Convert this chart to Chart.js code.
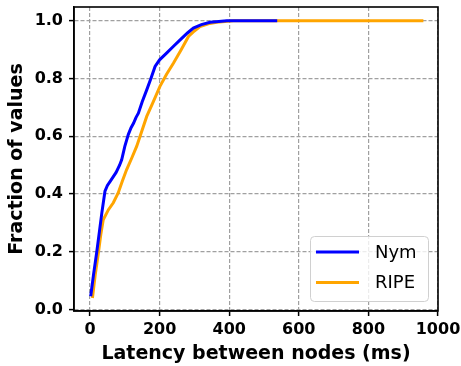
<!DOCTYPE html>
<html>
<head>
<meta charset="utf-8">
<script src="https://cdn.jsdelivr.net/npm/chart.js@4"></script>
<style>
  html, body { margin: 0; padding: 0; background: #fff; }
  #box { width: 461px; height: 366px; }
</style>
</head>
<body>
<div id="box"><canvas id="grafico"></canvas></div>
<script>
const nymLatency = [2, 10, 19, 27, 34, 43, 50, 58, 75, 85, 91, 100, 110, 118, 125, 132, 139, 150, 163, 175, 187, 200, 220, 240, 259, 280, 297, 320, 345, 370, 393, 450, 538];
const nymFraction = [0.046, 0.12, 0.196, 0.27, 0.335, 0.41, 0.43, 0.444, 0.475, 0.50, 0.519, 0.565, 0.606, 0.63, 0.645, 0.665, 0.68, 0.72, 0.761, 0.80, 0.842, 0.865, 0.888, 0.912, 0.934, 0.958, 0.975, 0.987, 0.995, 0.998, 1.0, 1.0, 1.0];
const ripeLatency = [7, 15, 24, 31, 38, 53, 67, 81, 93, 105, 120, 134, 148, 163, 182, 201, 220, 240, 262, 283, 300, 316, 340, 364, 412, 600, 958];
const ripeFraction = [0.04, 0.12, 0.196, 0.26, 0.311, 0.346, 0.37, 0.404, 0.445, 0.484, 0.525, 0.565, 0.615, 0.669, 0.72, 0.773, 0.815, 0.854, 0.9, 0.946, 0.965, 0.98, 0.99, 0.995, 1.0, 1.0, 1.0];
const xTicks = [0, 200, 400, 600, 800, 1000];
const yTicks = [0.0, 0.2, 0.4, 0.6, 0.8, 1.0];

const fam = "'DejaVu Sans', sans-serif";

function puntos(xs, ys) {
  return xs.map((x, i) => ({ x: x, y: ys[i] }));
}

// marco completo y leyenda dentro del area
const marco = {
  id: 'marco',
  afterDraw(chart) {
    const { ctx, chartArea: a } = chart;
    ctx.save();
    ctx.strokeStyle = '#000';
    ctx.lineWidth = 1.6;
    ctx.strokeRect(a.left, a.top, a.right - a.left, a.bottom - a.top);

    // leyenda
    const bx = 310, by = 236, bw = 118, bh = 65;
    ctx.fillStyle = 'rgba(255,255,255,0.8)';
    ctx.strokeStyle = '#d0d0d0';
    ctx.lineWidth = 1;
    ctx.beginPath();
    ctx.roundRect(bx + 0.5, by + 0.5, bw, bh, 4);
    ctx.fill();
    ctx.stroke();
    ctx.font = "18px " + fam;
    ctx.textBaseline = 'middle';
    chart.data.datasets.forEach((ds, i) => {
      const cy = by + 16 + i * 30.5;
      ctx.strokeStyle = ds.borderColor;
      ctx.lineWidth = 3;
      ctx.beginPath();
      ctx.moveTo(bx + 6, cy);
      ctx.lineTo(bx + 49, cy);
      ctx.stroke();
      ctx.fillStyle = '#000';
      ctx.fillText(ds.label, bx + 65, cy + 1);
    });
    ctx.restore();
  }
};

const gridOpts = {
  color: '#a0a0a0',
  lineWidth: 1.2,
  tickColor: '#000',
  tickWidth: 1.5,
  tickLength: 5,
  tickBorderDash: []
};

const lienzo = document.querySelector('#grafico');
new Chart(lienzo, {
  type: 'line',
  data: {
    datasets: [
      {
        label: 'Nym',
        data: puntos(nymLatency, nymFraction),
        borderColor: '#0000ff',
        borderWidth: 3,
        pointRadius: 0,
        tension: 0
      },
      {
        label: 'RIPE',
        data: puntos(ripeLatency, ripeFraction),
        borderColor: '#ffa500',
        borderWidth: 3,
        pointRadius: 0,
        tension: 0
      }
    ]
  },
  options: {
    responsive: true,
    maintainAspectRatio: false,
    animation: false,
    layout: { padding: { top: 7, right: 23, left: 0, bottom: 0 } },
    plugins: { legend: { display: false }, tooltip: { enabled: false } },
    scales: {
      x: {
        type: 'linear',
        min: -46,
        max: 1000,
        afterBuildTicks: s => { s.ticks = xTicks.map(v => ({ value: v })); },
        afterFit: s => { s.height = 55; s.paddingLeft = 0; s.paddingRight = 0; },
        ticks: {
          color: '#000',
          font: { family: fam, size: 16, weight: 'bold' },
          padding: 4,
          maxRotation: 0,
          callback: v => String(v)
        },
        grid: gridOpts,
        border: { display: true, color: '#000', width: 1.5, dash: [4, 2] },
        title: {
          display: true,
          text: 'Latency between nodes (ms)',
          color: '#000',
          font: { family: fam, size: 19, weight: 'bold' },
          padding: { top: 0, bottom: 1 }
        }
      },
      y: {
        type: 'linear',
        min: -0.005,
        max: 1.048,
        afterBuildTicks: s => { s.ticks = yTicks.map(v => ({ value: v })); },
        afterFit: s => { s.width = 74; s.paddingTop = 0; s.paddingBottom = 0; },
        ticks: {
          color: '#000',
          font: { family: fam, size: 16, weight: 'bold' },
          padding: 6,
          callback: v => Number(v).toFixed(1)
        },
        grid: gridOpts,
        border: { display: true, color: '#000', width: 1.5, dash: [4, 2] },
        title: {
          display: true,
          text: 'Fraction of values',
          color: '#000',
          font: { family: fam, size: 19, weight: 'bold' },
          padding: { top: 6, bottom: 2 }
        }
      }
    }
  },
  plugins: [marco]
});
</script>
</body>
</html>
